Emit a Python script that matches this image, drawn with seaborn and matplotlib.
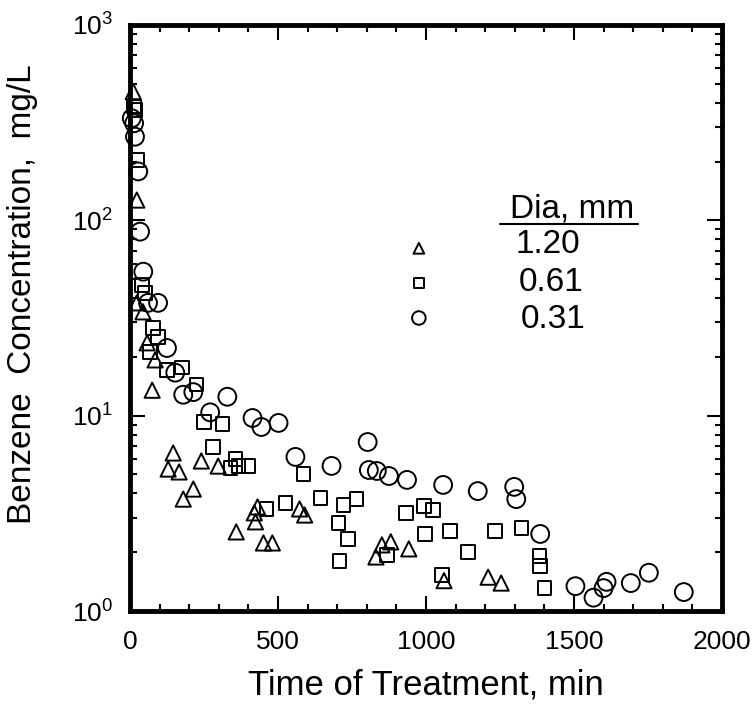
import numpy as np
import pandas as pd
import matplotlib
matplotlib.use('Agg')
import matplotlib.pyplot as plt
import seaborn as sns
from matplotlib.ticker import MultipleLocator, LogLocator, NullFormatter

# data: time (min) and benzene concentration (mg/L)
t_120 = [11, 23, 23, 44, 58, 85, 75, 146, 241, 298, 129, 166, 214, 180, 431, 420, 424,
         359, 451, 481, 573, 590, 851, 881, 831, 942, 1061, 1210, 1254]
c_120 = [456, 127, 37.8, 34.0, 23.6, 19.3, 13.5, 6.44, 5.86, 5.52, 5.33, 5.15, 4.21, 3.74,
         3.41, 3.18, 2.86, 2.54, 2.23, 2.23, 3.33, 3.10, 2.18, 2.26, 1.89, 2.08, 1.43, 1.49, 1.39]

t_061 = [14, 17, 23, 40, 51, 78, 95, 68, 125, 176, 224, 251, 312, 281, 356, 339, 366, 400,
         586, 461, 525, 644, 722, 766, 705, 736, 708, 868, 932, 993, 1024, 997, 1081, 1234,
         1322, 1142, 1383, 1386, 1400, 1054]
c_061 = [382, 367, 204, 46.7, 42.5, 28.1, 25.3, 21.2, 17.1, 17.6, 14.4, 9.29, 9.07, 6.92,
         6.00, 5.40, 5.53, 5.53, 5.03, 3.33, 3.57, 3.79, 3.49, 3.74, 2.82, 2.34, 1.80, 1.94,
         3.18, 3.45, 3.29, 2.48, 2.57, 2.57, 2.66, 2.00, 1.91, 1.70, 1.31, 1.53]

t_031 = [6, 14, 17, 28, 34, 45, 61, 95, 125, 153, 180, 214, 329, 271, 414, 444, 502, 559,
         681, 803, 807, 834, 875, 936, 1058, 1175, 1298, 1305, 1386, 1505, 1566, 1600, 1610,
         1692, 1753, 1871]
c_031 = [333, 314, 268, 178, 87.5, 54.6, 37.8, 37.8, 22.2, 16.6, 12.8, 13.2, 12.5, 10.4,
         9.73, 8.75, 9.18, 6.15, 5.53, 7.33, 5.27, 5.21, 4.91, 4.69, 4.42, 4.11, 4.32, 3.74,
         2.48, 1.34, 1.17, 1.31, 1.41, 1.39, 1.57, 1.25]

diameters = ['1.20', '0.61', '0.31']
markers = ['^', 's', 'o']
sizes = [120, 95, 165]

df = pd.concat([
    pd.DataFrame({'time': t_120, 'conc': c_120, 'dia': '1.20'}),
    pd.DataFrame({'time': t_061, 'conc': c_061, 'dia': '0.61'}),
    pd.DataFrame({'time': t_031, 'conc': c_031, 'dia': '0.31'}),
])

sns.set_style('ticks')
plt.rcParams['font.family'] = ['Liberation Sans', 'DejaVu Sans']
plt.rcParams['text.color'] = 'black'
plt.rcParams['axes.labelcolor'] = 'black'
plt.rcParams['xtick.color'] = 'black'
plt.rcParams['ytick.color'] = 'black'

fig = plt.figure(figsize=(7.53, 7.04), dpi=100)
ax = fig.add_axes([0.1726, 0.1321, 0.7862, 0.8324])

# one scatter per particle size, open markers
for d, m, s in zip(diameters, markers, sizes):
    sub = df[df['dia'] == d]
    sns.scatterplot(data=sub, x='time', y='conc', marker=m, s=s, facecolor='none',
                    edgecolor='black', linewidth=1.4, ax=ax, clip_on=False, legend=False)

ax.set_yscale('log')
ax.set_xlim(0, 2000)
ax.set_ylim(1, 1000)

ax.set_xticks([0, 500, 1000, 1500, 2000])
ax.set_xticklabels(['0', '500', '1000', '1500', '2000'], fontsize=19)
ax.xaxis.set_minor_locator(MultipleLocator(100))
ax.set_yticks([1, 10, 100, 1000])
ax.set_yticklabels([r'$\mathregular{10^0}$', r'$\mathregular{10^1}$',
                    r'$\mathregular{10^2}$', r'$\mathregular{10^3}$'], fontsize=19)
ax.yaxis.set_minor_locator(LogLocator(base=10, subs=np.arange(2, 10)))
ax.yaxis.set_minor_formatter(NullFormatter())

ax.tick_params(which='both', direction='in', top=True, right=True)
ax.tick_params(which='major', length=11, width=1.5)
ax.tick_params(axis='x', which='major', pad=14)
ax.tick_params(axis='y', which='major', pad=12)
ax.tick_params(which='minor', length=5, width=1.5)
for sp in ax.spines.values():
    sp.set_linewidth(3.5)
    sp.set_color('black')

ax.set_xlabel('Time of Treatment, min', fontsize=25, labelpad=10)
ax.set_ylabel('Benzene  Concentration,  mg/L', fontsize=24)
ax.yaxis.set_label_coords(-0.155, 0.541)

# hand-made legend in axes coordinates
leg_y = [0.619, 0.560, 0.500]
leg_tx = [0.706, 0.711, 0.715]
leg_ty = [0.625, 0.560, 0.497]
leg_sizes = [60, 50, 95]
for d, m, s, y, tx, ty in zip(diameters, markers, leg_sizes, leg_y, leg_tx, leg_ty):
    ax.scatter([0.488], [y], marker=m, s=s, facecolor='none', edgecolor='black',
               linewidth=1.4, transform=ax.transAxes)
    ax.text(tx, ty, d, transform=ax.transAxes, ha='center', va='center', fontsize=24)
ax.text(0.747, 0.671, 'Dia, mm', transform=ax.transAxes, ha='center', va='baseline', fontsize=24)
ax.plot([0.625, 0.858], [0.660, 0.660], color='black', lw=1.5, transform=ax.transAxes)

fig.savefig('out.png', dpi=100)
